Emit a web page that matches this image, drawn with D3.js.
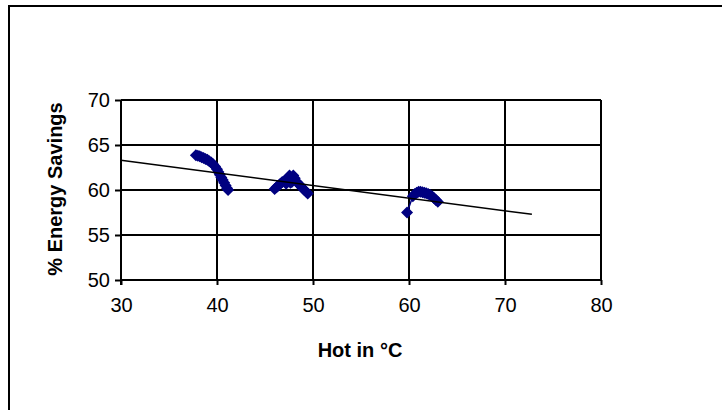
<!DOCTYPE html>
<html>
<head>
<meta charset="utf-8">
<script src="https://cdn.jsdelivr.net/npm/d3@7"></script>
<style>
  html, body { margin: 0; padding: 0; background: #fff; }
  svg { display: block; }
  text { font-family: "Liberation Sans", Arial, sans-serif; }
</style>
</head>
<body>
<svg id="chart" width="722" height="410"></svg>
<script>
// ---- data ----
const xTicks = [30, 40, 50, 60, 70, 80];
const yTicks = [50, 55, 60, 65, 70];
const xLabel = "Hot in °C";
const yLabel = "% Energy Savings";

// measured series, three runs
const run1X = [37.8, 38.0, 38.2, 38.4, 38.6, 38.8, 39.0, 39.2, 39.4, 39.6, 39.8, 40.0, 40.15, 40.3, 40.45, 40.6, 40.75, 40.9, 41.05, 41.15];
const run1Y = [63.85, 63.8, 63.75, 63.65, 63.55, 63.45, 63.35, 63.2, 63.05, 62.85, 62.6, 62.3, 62.0, 61.7, 61.4, 61.1, 60.8, 60.5, 60.2, 60.0];
const run2X = [46.0, 46.2, 46.4, 46.6, 46.8, 47.0, 47.2, 47.4, 47.55, 47.65, 47.8, 47.95, 48.1, 48.3, 48.5, 48.7, 48.9, 49.1, 49.3, 49.45];
const run2Y = [60.1, 60.3, 60.5, 60.7, 60.9, 61.0, 60.7, 61.3, 61.6, 60.8, 60.9, 61.6, 61.3, 60.9, 60.7, 60.45, 60.2, 60.0, 59.8, 59.6];
const run3X = [59.8, 60.4, 60.6, 60.8, 61.0, 61.2, 61.4, 61.6, 61.8, 62.0, 62.2, 62.4, 62.6, 62.8, 63.0];
const run3Y = [57.5, 59.3, 59.55, 59.7, 59.8, 59.8, 59.75, 59.7, 59.65, 59.55, 59.45, 59.3, 59.1, 58.9, 58.7];

// trend line
const trendX = [30, 72.8];
const trendY = [63.3, 57.3];

// ---- layout ----
const svg = d3.select("#chart");
const plot = { left: 121, right: 601, top: 100, bottom: 280 };

const x = d3.scaleLinear().domain([30, 80]).range([plot.left, plot.right]);
const y = d3.scaleLinear().domain([50, 70]).range([plot.bottom, plot.top]);

// outer frame (extends beyond right/bottom edge)
svg.append("rect")
  .attr("x", 9).attr("y", 6)
  .attr("width", 900).attr("height", 600)
  .attr("fill", "none").attr("stroke", "#000").attr("stroke-width", 2);

// gridlines
const g = svg.append("g");
g.selectAll(".hgrid").data(yTicks).join("line")
  .attr("x1", plot.left).attr("x2", plot.right)
  .attr("y1", d => y(d)).attr("y2", d => y(d))
  .attr("stroke", "#000").attr("stroke-width", 2);
g.selectAll(".vgrid").data(xTicks).join("line")
  .attr("y1", plot.top).attr("y2", plot.bottom)
  .attr("x1", d => x(d)).attr("x2", d => x(d))
  .attr("stroke", "#000").attr("stroke-width", 2);

// axes
const xAxis = d3.axisBottom(x).tickValues(xTicks).tickSize(5).tickPadding(13).tickFormat(d3.format("d"));
const yAxis = d3.axisLeft(y).tickValues(yTicks).tickSize(6).tickPadding(5).tickFormat(d3.format("d"));

const gx = svg.append("g").attr("transform", `translate(0,${plot.bottom})`).call(xAxis);
const gy = svg.append("g").attr("transform", `translate(${plot.left},0)`).call(yAxis);
[gx, gy].forEach(a => {
  a.select(".domain").remove();
  a.selectAll(".tick line").attr("stroke", "#000").attr("stroke-width", 2);
  a.selectAll(".tick text").attr("fill", "#000")
    .style("font-family", '"Liberation Sans", Arial, sans-serif')
    .style("font-size", "20px");
});
svg.append("line").attr("x1", plot.left).attr("x2", plot.left)
  .attr("y1", plot.top).attr("y2", plot.bottom + 5)
  .attr("stroke", "#000").attr("stroke-width", 2);

// series
const runs = [[run1X, run1Y], [run2X, run2Y], [run3X, run3Y]];
const navy = "#000080";
const diamond = d3.symbol(d3.symbolSquare, 72);
runs.forEach(([rx, ry]) => {
  const pts = rx.map((v, i) => [v, ry[i]]);
  svg.append("path").datum(pts)
    .attr("d", d3.line().x(d => x(d[0])).y(d => y(d[1])))
    .attr("fill", "none").attr("stroke", navy).attr("stroke-width", 1.5);
  svg.append("g").selectAll("path").data(pts).join("path")
    .attr("d", diamond)
    .attr("transform", d => `translate(${x(d[0])},${y(d[1])}) rotate(45)`)
    .attr("fill", navy);
});

// trend line drawn over the markers
const trendData = trendX.map((v, i) => [v, trendY[i]]);
svg.append("path")
  .datum(trendData)
  .attr("d", d3.line().x(d => x(d[0])).y(d => y(d[1])))
  .attr("fill", "none").attr("stroke", "#000").attr("stroke-width", 1.5);

// titles
svg.append("text")
  .attr("x", 360).attr("y", 357)
  .attr("text-anchor", "middle")
  .style("font-size", "20px").style("font-weight", "bold")
  .text(xLabel);

svg.append("text")
  .attr("transform", `translate(62,189) rotate(-90)`)
  .attr("text-anchor", "middle")
  .style("font-size", "20px").style("font-weight", "bold")
  .text(yLabel);
</script>
</body>
</html>
